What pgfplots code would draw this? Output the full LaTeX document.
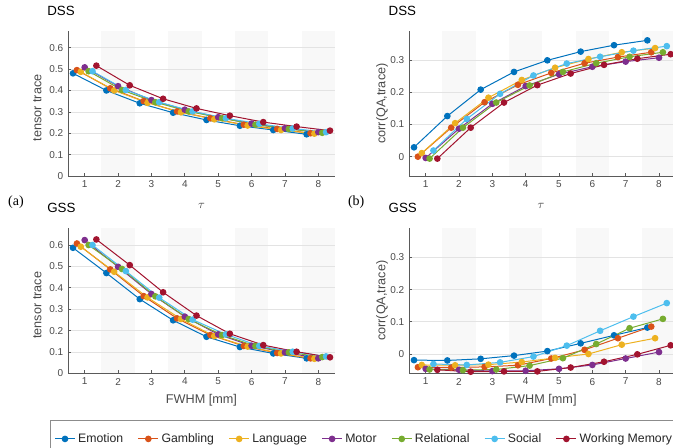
\documentclass[border=0pt]{standalone}
\usepackage{fontspec}
\setmainfont{Liberation Sans}
\newfontfamily\seriffont{Liberation Serif}
\usepackage{pgfplots}
\pgfplotsset{compat=1.18}
\usepackage{pgfplotstable}

\definecolor{emo}{rgb}{0,0.447,0.741}
\definecolor{gam}{rgb}{0.850,0.325,0.098}
\definecolor{lan}{rgb}{0.929,0.694,0.125}
\definecolor{mot}{rgb}{0.494,0.184,0.556}
\definecolor{rel}{rgb}{0.466,0.674,0.188}
\definecolor{soc}{rgb}{0.301,0.745,0.933}
\definecolor{wm}{rgb}{0.635,0.078,0.184}
\definecolor{axisgray}{HTML}{5A5A5A}
\definecolor{tickgray}{HTML}{4A4A4A}
\definecolor{gridgray}{HTML}{E3E3E3}
\definecolor{bandgray}{HTML}{F8F8F8}
\definecolor{legendgray}{HTML}{8C8C8C}

% DSS, tensor trace
\pgfplotstableread{
tau emo   gam   lan   mot   rel   soc   wm
1   0.480 0.495 0.487 0.508 0.490 0.490 0.516
2   0.400 0.410 0.400 0.420 0.402 0.402 0.424
3   0.340 0.350 0.342 0.355 0.345 0.345 0.361
4   0.296 0.302 0.298 0.310 0.302 0.302 0.316
5   0.262 0.270 0.265 0.275 0.270 0.270 0.282
6   0.235 0.240 0.236 0.245 0.240 0.244 0.252
7   0.215 0.220 0.215 0.223 0.220 0.222 0.231
8   0.195 0.200 0.198 0.205 0.202 0.205 0.212
}\dsstrace

% DSS, corr(QA,trace)
\pgfplotstableread{
tau emo   gam   lan   mot    rel    soc   wm
1   0.029 0.000 0.011 -0.004 -0.006 0.019 -0.006
2   0.126 0.090 0.104 0.087  0.090  0.117 0.090
3   0.208 0.169 0.183 0.164  0.168  0.195 0.168
4   0.263 0.223 0.238 0.219  0.221  0.252 0.222
5   0.299 0.260 0.276 0.256  0.263  0.289 0.258
6   0.326 0.290 0.303 0.279  0.290  0.310 0.285
7   0.346 0.309 0.324 0.295  0.310  0.329 0.304
8   0.361 0.324 0.337 0.307  0.324  0.343 0.318
}\dsscorr

% GSS, tensor trace
\pgfplotstableread{
tau emo   gam   lan   mot   rel   soc   wm
1   0.587 0.607 0.592 0.623 0.600 0.600 0.626
2   0.469 0.486 0.475 0.498 0.488 0.478 0.506
3   0.347 0.361 0.355 0.371 0.360 0.354 0.379
4   0.248 0.257 0.254 0.265 0.254 0.251 0.270
5   0.171 0.179 0.174 0.182 0.179 0.182 0.185
6   0.123 0.128 0.125 0.129 0.128 0.128 0.132
7   0.093 0.095 0.093 0.098 0.098 0.101 0.101
8   0.070 0.070 0.068 0.070 0.076 0.079 0.075
}\gsstrace

% GSS, corr(QA,trace)
\pgfplotstableread{
tau emo    gam    lan    mot    rel    soc    wm
1   -0.019 -0.041 -0.034 -0.046 -0.048 -0.031 -0.049
2   -0.020 -0.042 -0.035 -0.049 -0.050 -0.034 -0.055
3   -0.015 -0.040 -0.033 -0.053 -0.048 -0.026 -0.054
4   -0.005 -0.035 -0.025 -0.052 -0.036 -0.008 -0.054
5    0.009 -0.014 -0.012 -0.046 -0.013  0.026 -0.042
6    0.033  0.013  0.000 -0.034  0.031  0.072 -0.024
7    0.058  0.049  0.029 -0.014  0.080  0.116 -0.001
8    0.082  0.085  0.049  0.006  0.109  0.158  0.027
}\gsscorr

\pgfplotsset{
  panel/.style={
    scale only axis, width=200.25pt, height=108.75pt,
    xmin=0.5, xmax=8.5, xtick={1,...,8},
    axis lines*=left,
    axis line style={draw=axisgray, line width=0.5pt},
    tick align=inside, major tick length=2.2pt,
    tick style={draw=axisgray, line width=0.5pt},
    ymajorgrids, grid style={draw=gridgray, line width=0.5pt},
    tick label style={font=\fontsize{7.5}{9}\selectfont, text=tickgray},
    /pgf/number format/assume math mode=true,
    label style={font=\fontsize{9.5}{11}\selectfont, text=tickgray},
    xlabel style={anchor=center},
    ylabel style={anchor=center},
    title style={font=\fontsize{10}{12}\selectfont, anchor=west,
      at={(axis description cs:-0.095,1.086)}},
    clip=false, set layers,
    every axis plot/.append style={line width=0.75pt, mark=*, mark size=2.1pt},
  },
}

% grey bands behind the data
\newcommand\bands[2]{%
  \addplot[fill=bandgray, draw=none, mark=none, forget plot, on layer=axis background]
    coordinates {(1.5,#1) (2.5,#1) (2.5,#2) (1.5,#2)};
  \addplot[fill=bandgray, draw=none, mark=none, forget plot, on layer=axis background]
    coordinates {(3.5,#1) (4.5,#1) (4.5,#2) (3.5,#2)};
  \addplot[fill=bandgray, draw=none, mark=none, forget plot, on layer=axis background]
    coordinates {(5.5,#1) (6.5,#1) (6.5,#2) (5.5,#2)};
  \addplot[fill=bandgray, draw=none, mark=none, forget plot, on layer=axis background]
    coordinates {(7.5,#1) (8.5,#1) (8.5,#2) (7.5,#2)};
}

% one line per task, shifted a little along x
\newcommand\tasks[1]{%
  \addplot[emo] table[x expr=\thisrow{tau}-0.35,  y=emo] {#1};
  \addplot[gam] table[x expr=\thisrow{tau}-0.233, y=gam] {#1};
  \addplot[lan] table[x expr=\thisrow{tau}-0.117, y=lan] {#1};
  \addplot[mot] table[x expr=\thisrow{tau},       y=mot] {#1};
  \addplot[rel] table[x expr=\thisrow{tau}+0.117, y=rel] {#1};
  \addplot[soc] table[x expr=\thisrow{tau}+0.233, y=soc] {#1};
  \addplot[wm]  table[x expr=\thisrow{tau}+0.35,  y=wm]  {#1};
}

\begin{document}
\begin{tikzpicture}

% (a) DSS
\begin{axis}[panel, at={(51pt,-132pt)}, anchor=south west,
  ymin=0, ymax=0.678, ytick={0,0.1,...,0.6},
  title={DSS}, ylabel={tensor trace},
  ylabel style={at={(axis description cs:-0.115,0.47)}},
  xlabel={$\tau$},
  xlabel style={at={(axis description cs:0.5,-0.207)}}]
  \bands{0}{0.678}
  \tasks{\dsstrace}
  \node[font=\seriffont\fontsize{10.5}{12}\selectfont] at (axis description cs:-0.195,-0.179) {(a)};
\end{axis}

% (b) DSS
\begin{axis}[panel, at={(306.75pt,-132pt)}, anchor=south west,
  width=198pt, xmax=8.42,
  ymin=-0.06, ymax=0.39, ytick={0,0.1,0.2,0.3},
  title={DSS}, ylabel={corr(QA,trace)},
  ylabel style={at={(axis description cs:-0.102,0.5)}},
  xlabel={$\tau$},
  xlabel style={at={(axis description cs:0.5,-0.207)}}]
  \bands{-0.06}{0.39}
  \tasks{\dsscorr}
  \node[font=\seriffont\fontsize{10.5}{12}\selectfont] at (axis description cs:-0.2,-0.179) {(b)};
\end{axis}

% GSS, trace
\begin{axis}[panel, at={(51pt,-280pt)}, anchor=south west,
  ymin=0, ymax=0.678, ytick={0,0.1,...,0.6},
  title={GSS}, ylabel={tensor trace},
  ylabel style={at={(axis description cs:-0.115,0.47)}},
  xlabel={FWHM [mm]},
  xlabel style={at={(axis description cs:0.5,-0.184)}},
  legend columns=7,
  legend style={at={(axis description cs:-0.067,-0.32)}, anchor=north west,
    draw=legendgray, line width=0.6pt,
    font=\fontsize{9.2}{11}\selectfont, text=black!85,
    inner xsep=3pt, inner ysep=8pt,
    /tikz/every even column/.append style={column sep=9pt}},
  legend image code/.code={%
    \draw[mark repeat=2, mark phase=2, #1] plot coordinates {(0pt,0pt) (7.5pt,0pt) (15pt,0pt)};}]
  \bands{0}{0.678}
  \tasks{\gsstrace}
  \legend{Emotion,Gambling,Language,Motor,Relational,Social,Working Memory}
\end{axis}

% GSS, corr
\begin{axis}[panel, at={(306.75pt,-280pt)}, anchor=south west,
  width=198pt, xmax=8.42,
  ymin=-0.06, ymax=0.39, ytick={0,0.1,0.2,0.3},
  title={GSS}, ylabel={corr(QA,trace)},
  ylabel style={at={(axis description cs:-0.102,0.5)}},
  xlabel={FWHM [mm]},
  xlabel style={at={(axis description cs:0.5,-0.184)}}]
  \bands{-0.06}{0.39}
  \tasks{\gsscorr}
\end{axis}

\pgfresetboundingbox
\path[use as bounding box] (0pt,0pt) rectangle (504.75pt,-336pt);
\end{tikzpicture}
\end{document}
